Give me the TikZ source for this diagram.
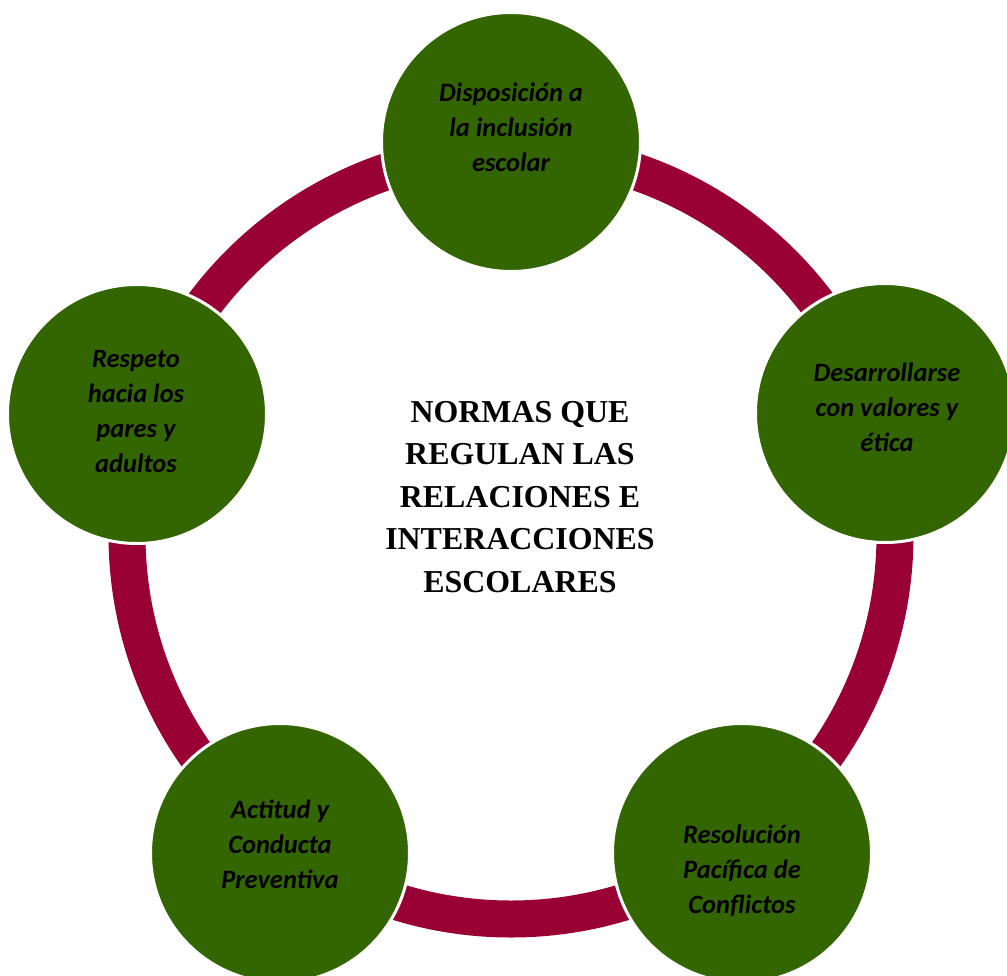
\documentclass[tikz,border=0pt]{standalone}
\usepackage{fontspec}
\setmainfont{Liberation Serif}
\newfontfamily\calfont{Carlito}
\definecolor{normgreen}{HTML}{336600}
\definecolor{normred}{HTML}{990033}
\tikzset{
  valor/.style={circle, fill=normgreen, draw=white, line width=3pt, minimum size=259pt, inner sep=0pt},
  valtext/.style={align=center, inner sep=0pt, font=\calfont\bfseries\itshape\fontsize{26.5}{35}\selectfont},
  ring/.style={draw=normred, line width=37pt},
}
\begin{document}
\begin{tikzpicture}[x=1pt, y=-1pt]
\useasboundingbox (0,0) rectangle (1007,975);
\clip (0,0) rectangle (1007,975);
\draw[ring](511,535) circle [radius=384pt];

\node[valor] (inclusion) at (511,142) {};
\node[valor] (valores) at (885,413) {};
\node[valor] (pacifica) at (742,853) {};
\node[valor] (preventiva) at (280,853) {};
\node[valor] (respeto) at (137,414) {};

\node[valtext] (tinclusion) at (511,127) {Disposición a\\la inclusión\\escolar};
\node[valtext] (tvalores) at (887,407) {Desarrollarse\\con valores y\\ética};
\node[valtext] (tpacifica) at (742,871) {Resolución\\Pacífica de\\Conflictos};
\node[valtext] (tpreventiva) at (280,844) {Actitud y\\Conducta\\Preventiva};
\node[valtext] (trespeto) at (136,411) {Respeto\\hacia los\\pares y\\adultos};

\node[align=center, font=\bfseries\fontsize{31.9}{42.5}\selectfont] (normas) at (520,497)
  {NORMAS QUE\\REGULAN LAS\\RELACIONES E\\INTERACCIONES\\ESCOLARES};
\end{tikzpicture}
\end{document}
